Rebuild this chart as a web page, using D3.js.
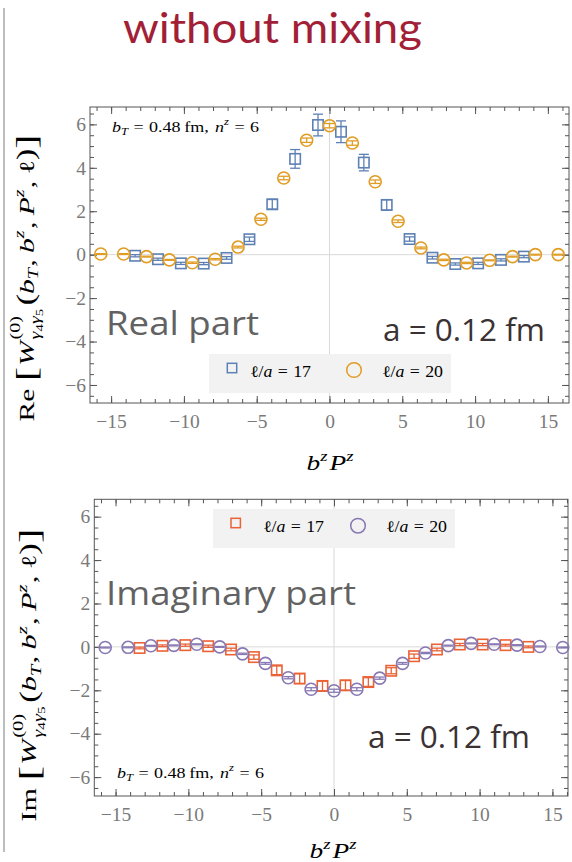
<!DOCTYPE html>
<html>
<head>
<meta charset="utf-8">
<script src="https://cdn.jsdelivr.net/npm/d3@7"></script>
<style>
  body { margin: 0; background: #fff; }
  svg { display: block; }
</style>
</head>
<body>
<svg id="chart" width="572" height="862"></svg>
<script>
// b^z P^z positions of the two lattice extents
const bzPzL17 = [-13.35, -11.78, -10.21, -8.64, -7.07, -5.50, -3.93, -2.36, -0.79,
                  0.79, 2.36, 3.93, 5.50, 7.07, 8.64, 10.21, 11.78, 13.35];
const bzPzL20 = [-15.71, -14.14, -12.57, -11.00, -9.42, -7.85, -6.28, -4.71, -3.14, -1.57,
                  0, 1.57, 3.14, 4.71, 6.28, 7.85, 9.42, 11.00, 12.57, 14.14, 15.71];

// Real part, l/a = 17 and l/a = 20
const reL17    = [-0.05, -0.21, -0.40, -0.41, -0.15, 0.71, 2.32, 4.41, 5.97,
                   5.66, 4.24, 2.29, 0.72, -0.14, -0.43, -0.40, -0.24, -0.09];
const reL17Err = [0.05, 0.05, 0.05, 0.05, 0.06, 0.10, 0.22, 0.43, 0.50,
                  0.50, 0.38, 0.24, 0.10, 0.06, 0.05, 0.05, 0.05, 0.05];
const reL20    = [0.03, 0.03, -0.09, -0.24, -0.37, -0.21, 0.35, 1.63, 3.53, 5.27,
                  5.94, 5.14, 3.36, 1.54, 0.31, -0.24, -0.38, -0.26, -0.09, 0.00, 0.00];
const reL20Err = [0.02, 0.02, 0.02, 0.02, 0.03, 0.03, 0.04, 0.05, 0.08, 0.10,
                  0.10, 0.10, 0.08, 0.06, 0.04, 0.03, 0.03, 0.02, 0.02, 0.02, 0.02];

// Imaginary part, l/a = 17 and l/a = 20
const imL17    = [-0.05, 0.05, 0.08, 0.03, -0.12, -0.47, -1.08, -1.46, -1.80,
                  -1.77, -1.62, -1.10, -0.43, -0.12, 0.11, 0.11, 0.08, 0.00];
const imL17Err = [0.04, 0.04, 0.05, 0.05, 0.06, 0.10, 0.20, 0.22, 0.22,
                  0.22, 0.20, 0.14, 0.10, 0.06, 0.05, 0.05, 0.04, 0.04];
const imL20    = [-0.03, -0.02, 0.05, 0.07, 0.12, 0.00, -0.32, -0.76, -1.42, -1.95,
                  -2.02, -1.95, -1.44, -0.76, -0.28, 0.06, 0.16, 0.12, 0.08, 0.02, -0.03];
const imL20Err = [0.02, 0.02, 0.02, 0.02, 0.02, 0.02, 0.03, 0.04, 0.05, 0.07,
                  0.07, 0.07, 0.05, 0.04, 0.03, 0.02, 0.02, 0.02, 0.02, 0.02, 0.02];

// Tick values
const xMajorTicks = [-15, -10, -5, 0, 5, 10, 15];
const xMinorTicks = d3.range(-16, 17, 1);
const yMajorTicks = [-6, -4, -2, 0, 2, 4, 6];
const yMinorTicks = d3.range(-6.5, 7, 0.5);

const seriesLabels = ["17", "20"];

const MATH = '"Liberation Serif","DejaVu Serif",serif';
const COL = { blue: "#5E81B5", orange: "#E19C24", red: "#EB6235", purple: "#8778B3" };

const svg = d3.select("#chart");

// Lays out a run of text pieces (italic, super/subscripts) and fits it to a width
function rich(parent, pieces, o) {
  const g = parent.append("g").attr("transform", `translate(${o.x},${o.y}) rotate(${o.rot || 0})`);
  const inner = g.append("g").attr("font-family", o.family || MATH).attr("fill", o.fill || "#000");
  let cursor = 0, maxX = 0, start = 0;
  for (const p of pieces) {
    let sx;
    if (p.stack) sx = start;
    else if (p.after) sx = maxX + (p.dx || 0) * o.size;
    else sx = cursor + (p.dx || 0) * o.size;
    const t = inner.append("text")
      .attr("x", sx)
      .attr("y", -(p.shift || 0) * o.size)
      .attr("font-size", o.size * (p.scale || 1))
      .attr("font-style", p.it ? "italic" : "normal")
      .text(p.t);
    const w = t.node().getComputedTextLength();
    if (!p.stack) start = sx;
    cursor = sx + w;
    maxX = Math.max(maxX, cursor);
  }
  const k = o.width ? o.width / maxX : 1;
  const off = o.anchor === "middle" ? -maxX * k / 2 : 0;
  inner.attr("transform", `translate(${off},0) scale(${k},1)`);
  return g;
}

function yLabelPieces(head) {
  return [
    { t: head },
    { t: "[", scale: 1.45, shift: -0.12, dx: 0.25 },
    { t: "W", it: true, dx: 0.04 },
    { t: "(0)", scale: 0.68, shift: 0.62, dx: 0.06 },
    { t: "\u03b3", it: true, scale: 0.68, shift: -0.32, stack: true },
    { t: "4", scale: 0.5, shift: -0.44 },
    { t: "\u03b3", it: true, scale: 0.68, shift: -0.32 },
    { t: "5", scale: 0.5, shift: -0.44 },
    { t: "(", scale: 1.15, shift: -0.04, dx: 0.12, after: true },
    { t: "b", it: true },
    { t: "T", it: true, scale: 0.68, shift: -0.22 },
    { t: ",", dx: 0.04 },
    { t: "b", it: true, dx: 0.22 },
    { t: "z", it: true, scale: 0.68, shift: 0.45 },
    { t: ",", dx: 0.04 },
    { t: "P", it: true, dx: 0.22 },
    { t: "z", it: true, scale: 0.68, shift: 0.45 },
    { t: ",", dx: 0.04 },
    { t: "\u2113", dx: 0.22 },
    { t: ")", scale: 1.15, shift: -0.04 },
    { t: "]", scale: 1.45, shift: -0.12 }
  ];
}

const xAxisPieces = [
  { t: "b", it: true },
  { t: "z", it: true, scale: 0.68, shift: 0.45 },
  { t: "P", it: true, dx: 0.08 },
  { t: "z", it: true, scale: 0.68, shift: 0.45 }
];

const notePieces = [
  { t: "b", it: true },
  { t: "T", it: true, scale: 0.7, shift: -0.22 },
  { t: "=", dx: 0.3 },
  { t: "0.48", dx: 0.3 },
  { t: "fm,", dx: 0.2 },
  { t: "n", it: true, dx: 0.35 },
  { t: "z", it: true, scale: 0.7, shift: 0.45 },
  { t: "=", dx: 0.3 },
  { t: "6", dx: 0.3 }
];

function legendPieces(v) {
  return [
    { t: "\u2113" }, { t: "/" }, { t: "a", it: true },
    { t: "=", dx: 0.3 }, { t: v, dx: 0.3 }
  ];
}

function styleAxis(sel) {
  sel.select(".domain").remove();
  sel.selectAll(".tick line").attr("stroke", "#555").attr("stroke-width", 1);
  sel.selectAll(".tick text")
    .attr("font-family", MATH).attr("font-size", 19.5).attr("fill", "#7a7a7a");
}

function panel(p) {
  const g = svg.append("g");
  const [xl, xr] = p.x.range();
  const [yb, yt] = p.y.range();

  // zero lines
  g.append("line").attr("x1", p.x(0)).attr("x2", p.x(0)).attr("y1", yt).attr("y2", yb)
    .attr("stroke", "#d9d9d9");
  g.append("line").attr("x1", xl).attr("x2", xr).attr("y1", p.y(0)).attr("y2", p.y(0))
    .attr("stroke", "#d9d9d9");

  // frame ticks pointing inward on all four sides
  const axes = [
    [d3.axisBottom(p.x).tickValues(xMinorTicks).tickSizeInner(-4).tickSizeOuter(0).tickFormat(""), `translate(0,${yb})`],
    [d3.axisBottom(p.x).tickValues(xMajorTicks).tickSizeInner(-7).tickSizeOuter(0).tickPadding(11), `translate(0,${yb})`],
    [d3.axisTop(p.x).tickValues(xMinorTicks).tickSizeInner(-4).tickSizeOuter(0).tickFormat(""), `translate(0,${yt})`],
    [d3.axisTop(p.x).tickValues(xMajorTicks).tickSizeInner(-7).tickSizeOuter(0).tickFormat(""), `translate(0,${yt})`],
    [d3.axisLeft(p.y).tickValues(yMinorTicks).tickSizeInner(-4).tickSizeOuter(0).tickFormat(""), `translate(${xl},0)`],
    [d3.axisLeft(p.y).tickValues(yMajorTicks).tickSizeInner(-7).tickSizeOuter(0).tickPadding(4), `translate(${xl},0)`],
    [d3.axisRight(p.y).tickValues(yMinorTicks).tickSizeInner(-4).tickSizeOuter(0).tickFormat(""), `translate(${xr},0)`],
    [d3.axisRight(p.y).tickValues(yMajorTicks).tickSizeInner(-7).tickSizeOuter(0).tickFormat(""), `translate(${xr},0)`]
  ];
  axes.forEach(([ax, tr]) => g.append("g").attr("transform", tr).call(ax).call(styleAxis));

  g.append("rect").attr("x", xl).attr("y", yt).attr("width", xr - xl).attr("height", yb - yt)
    .attr("fill", "none").attr("stroke", "#555").attr("stroke-width", 1);

  // data series with error bars
  p.series.forEach(s => {
    const pts = s.xs.map((x, i) => ({ x, y: s.ys[i], e: s.es[i] }));
    const sg = g.append("g").attr("stroke", s.color).attr("fill", "none");
    const eb = sg.selectAll("g.eb").data(pts).join("g").attr("class", "eb").attr("stroke-width", 1.3);
    eb.append("line")
      .attr("x1", d => p.x(d.x)).attr("x2", d => p.x(d.x))
      .attr("y1", d => p.y(d.y - d.e)).attr("y2", d => p.y(d.y + d.e));
    eb.append("line")
      .attr("x1", d => p.x(d.x) - 5).attr("x2", d => p.x(d.x) + 5)
      .attr("y1", d => p.y(d.y - d.e)).attr("y2", d => p.y(d.y - d.e));
    eb.append("line")
      .attr("x1", d => p.x(d.x) - 5).attr("x2", d => p.x(d.x) + 5)
      .attr("y1", d => p.y(d.y + d.e)).attr("y2", d => p.y(d.y + d.e));
    if (s.shape === "square") {
      sg.selectAll("rect.m").data(pts).join("rect").attr("class", "m")
        .attr("x", d => p.x(d.x) - 5.2).attr("y", d => p.y(d.y) - 5.2)
        .attr("width", 10.4).attr("height", 10.4).attr("stroke-width", 1.6);
    } else {
      sg.selectAll("circle.m").data(pts).join("circle").attr("class", "m")
        .attr("cx", d => p.x(d.x)).attr("cy", d => p.y(d.y))
        .attr("r", 6).attr("stroke-width", 1.6);
    }
  });

  // legend
  const L = p.legend;
  g.append("rect").attr("x", L.x).attr("y", L.y).attr("width", L.w).attr("height", L.h).attr("fill", "#f2f2f2");
  g.append("rect").attr("x", L.sq[0] - 4.7).attr("y", L.sq[1] - 4.7).attr("width", 9.4).attr("height", 9.4)
    .attr("fill", "none").attr("stroke", p.series[0].color).attr("stroke-width", 1.5);
  g.append("circle").attr("cx", L.ci[0]).attr("cy", L.ci[1]).attr("r", 7.3)
    .attr("fill", "none").attr("stroke", p.series[1].color).attr("stroke-width", 1.5);
  rich(g, legendPieces(seriesLabels[0]), { x: L.t1[0], y: L.t1[1], size: 16, width: 61 });
  rich(g, legendPieces(seriesLabels[1]), { x: L.t2[0], y: L.t2[1], size: 16, width: 61 });

  // annotations
  rich(g, notePieces, { x: p.note[0], y: p.note[1], size: 15, width: 147 });
  rich(g, xAxisPieces, { x: p.xlab[0], y: p.xlab[1], size: 21, width: 47, anchor: "middle" });
  rich(g, yLabelPieces(p.head), { x: p.ylab[0], y: p.ylab[1], size: 21, width: p.ylab[2], anchor: "middle", rot: -90 });

  g.append("text").attr("x", p.part[0]).attr("y", p.part[1])
    .attr("font-family", '"Open Sans","Noto Sans",sans-serif').attr("font-size", 33)
    .attr("fill", "#626262").attr("textLength", p.part[2]).attr("lengthAdjust", "spacingAndGlyphs")
    .text(p.partText);
  g.append("text").attr("x", p.spacing[0]).attr("y", p.spacing[1])
    .attr("font-family", '"Open Sans","Noto Sans",sans-serif').attr("font-size", 31)
    .attr("fill", "#3b3233").attr("textLength", 162).attr("lengthAdjust", "spacingAndGlyphs")
    .text("a = 0.12 fm");
}

// page rule at the left
svg.append("line").attr("x1", 4).attr("x2", 4).attr("y1", 8).attr("y2", 852)
  .attr("stroke", "#bdbdbd").attr("stroke-width", 2);

// title
svg.append("text").attr("x", 272.5).attr("y", 43).attr("text-anchor", "middle")
  .attr("font-family", 'Lato,"Open Sans",sans-serif').attr("font-size", 43)
  .attr("fill", "#a21f37").attr("textLength", 299).attr("lengthAdjust", "spacingAndGlyphs")
  .text("without mixing");

panel({
  x: d3.scaleLinear().domain([-16.45, 16.45]).range([90, 569]),
  y: d3.scaleLinear().domain([-6.83, 6.8]).range([403, 107]),
  series: [
    { xs: bzPzL17, ys: reL17, es: reL17Err, color: COL.blue, shape: "square" },
    { xs: bzPzL20, ys: reL20, es: reL20Err, color: COL.orange, shape: "circle" }
  ],
  legend: { x: 209, y: 354, w: 242, h: 39, sq: [232, 368], ci: [354, 370], t1: [250, 377], t2: [382, 377] },
  note: [112, 132],
  xlab: [330, 470],
  ylab: [33.5, 278, 287],
  head: "Re",
  part: [106, 335, 153],
  partText: "Real part",
  spacing: [383, 341]
});

panel({
  x: d3.scaleLinear().domain([-16.46, 16.07]).range([94.3, 568]),
  y: d3.scaleLinear().domain([-6.87, 6.8]).range([796, 499.3]),
  series: [
    { xs: bzPzL17, ys: imL17, es: imL17Err, color: COL.red, shape: "square" },
    { xs: bzPzL20, ys: imL20, es: imL20Err, color: COL.purple, shape: "circle" }
  ],
  legend: { x: 213, y: 509, w: 242, h: 39, sq: [235.7, 523], ci: [358, 525.7], t1: [263, 532], t2: [386, 532] },
  note: [117, 778],
  xlab: [333, 858],
  ylab: [36, 675, 293],
  head: "Im",
  part: [106, 605, 250],
  partText: "Imaginary part",
  spacing: [368, 748]
});
</script>
</body>
</html>
